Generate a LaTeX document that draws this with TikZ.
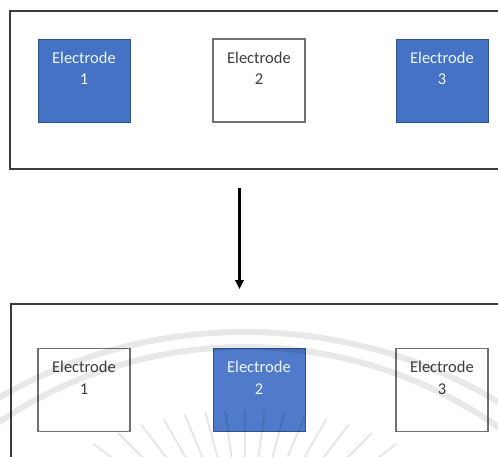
\documentclass[tikz,border=0pt]{standalone}
\usepackage{fontspec}
\setmainfont{Carlito}
\usetikzlibrary{arrows.meta,calc}
\definecolor{eblue}{HTML}{4472C4}
\definecolor{eblueb}{HTML}{4F7BCA}
\definecolor{eedge}{HTML}{2F528F}
\definecolor{frameline}{HTML}{3A3A3A}
\definecolor{boxline}{HTML}{707070}
\definecolor{darktext}{HTML}{3C3C3C}
\begin{document}
\begin{tikzpicture}[x=1pt,y=-1pt,
  frame/.style={draw=frameline,line width=2pt,rectangle,inner sep=0pt},
  elec/.style={rectangle,inner sep=0pt,minimum width=92pt,minimum height=83pt},
  active/.style={elec,fill=eblue,draw=eedge,line width=0.9pt},
  activeb/.style={elec,fill=eblueb,draw=eedge,line width=0.9pt},
  idle/.style={elec,fill=white,draw=boxline,line width=1.3pt},
  lbl/.style={inner sep=0pt,anchor=base,font=\fontsize{16.5}{20}\selectfont},
  lblw/.style={lbl,text=white!93!eblue},
  lbld/.style={lbl,text=darktext},
  flow/.style={line width=2.2pt,-{Triangle[length=9pt,width=8.5pt]}},
  band/.style={draw=black,draw opacity=0.09,line width=6pt},
  ray/.style={draw=black,draw opacity=0.10,line width=1.8pt}]
\useasboundingbox (0,0) rectangle (498,457);
\clip (0,0) rectangle (498,457);
\fill[white] (0,0) rectangle (498,457);

% outer frames (both run off the right edge)
\node[frame,minimum width=500.5pt,minimum height=158pt] (top) at (259.75,90.5) {};
\node[frame,minimum width=499pt,minimum height=166pt] (bot) at (260.5,387) {};

% top row of electrodes
\node[active] (e1) at (84,80.5) {};
\node[idle]   (e2) at (259,80.5) {};
\node[active] (e3) at (442,80.5) {};
\node[lblw] (e1a) at (84,63.3) {Electrode};
\node[lblw] (e1b) at (84,85) {1};
\node[lbld] (e2a) at (259,63.3) {Electrode};
\node[lbld] (e2b) at (259,85) {2};
\node[lblw] (e3a) at (442,63.3) {Electrode};
\node[lblw] (e3b) at (442,85) {3};

% bottom row of electrodes
\node[idle]    (f1) at (84,390) {};
\node[activeb] (f2) at (259,390) {};
\node[idle]    (f3) at (442,390) {};
\node[lbld] (f1a) at (84,372.7) {Electrode};
\node[lbld] (f1b) at (84,394.4) {1};
\node[lblw] (f2a) at (259,372.7) {Electrode};
\node[lblw] (f2b) at (259,394.4) {2};
\node[lbld] (f3a) at (442,372.7) {Electrode};
\node[lbld] (f3b) at (442,394.4) {3};

% transition arrow between the two states
\coordinate (ax) at (239.5,0);
\draw[flow,shorten <=17.5pt,shorten >=14pt] (top.south -| ax) -- (bot.north -| ax);

% faint seal in the lower half (y grows downwards, so angles are negated)
\draw[band] (245,825) circle[radius=493pt];
\draw[band] (245,787) circle[radius=440pt];
\coordinate (wc) at (245,560);
\foreach \a in {37.5,45,...,150}{
  \pgfmathsetmacro\r{3600/sqrt((15*cos(\a))^2+(24*sin(\a))^2)}
  \draw[ray] ($(wc)+(-\a:\r)$) -- ($(wc)+(-\a:60)$);
}
\end{tikzpicture}
\end{document}
